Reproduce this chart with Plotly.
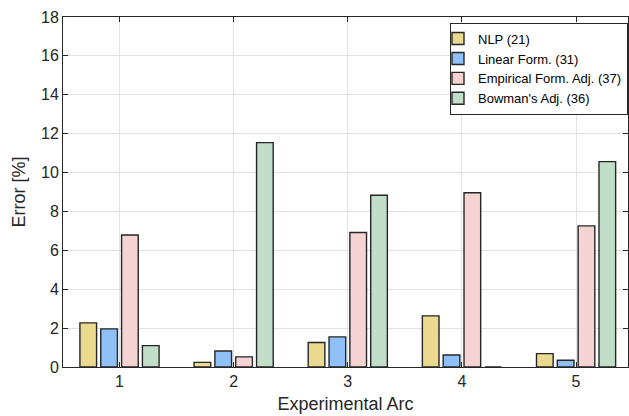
import plotly.graph_objects as go

arcs = [1, 2, 3, 4, 5]
tick_labels = ["1", "2", "3", "4", "5"]
series_names = ["NLP (21)", "Linear Form. (31)", "Empirical Form. Adj. (37)", "Bowman's Adj. (36)"]
nlp = [2.27, 0.24, 1.26, 2.63, 0.69]
linear = [1.96, 0.82, 1.55, 0.62, 0.35]
empirical = [6.79, 0.52, 6.92, 8.96, 7.26]
bowman = [1.10, 11.54, 8.83, 0.0, 10.56]
colors = ["#EBD98F", "#8FC0F8", "#F5D3D3", "#C1DEC8"]

fig = go.Figure()
for name, vals, col in zip(series_names, [nlp, linear, empirical, bowman], colors):
    fig.add_trace(go.Bar(
        x=arcs, y=vals, name=name,
        marker=dict(color=col, line=dict(color="#262626", width=1.4)),
    ))

axis_common = dict(
    showline=True, linecolor="#262626", linewidth=1, mirror="ticks",
    ticks="inside", ticklen=5, tickcolor="#262626", tickwidth=1,
    showgrid=True, gridcolor="#E3E3E3", gridwidth=1, zeroline=False,
    tickfont=dict(family="Liberation Sans, Arial", size=16, color="#262626"),
)

fig.update_layout(
    width=629, height=416,
    margin=dict(l=63, r=1, t=17, b=49),
    paper_bgcolor="white", plot_bgcolor="white",
    barmode="group", bargap=0.27, bargroupgap=0.2,
    font=dict(family="Liberation Sans, Arial", color="#262626"),
    xaxis=dict(range=[0.505, 5.455], tickvals=arcs, ticktext=tick_labels,
               title=dict(text="Experimental Arc", font=dict(size=18), standoff=8),
               **axis_common),
    yaxis=dict(range=[0, 18], dtick=2, tick0=0,
               title=dict(text="Error [%]", font=dict(size=18), standoff=10),
               **axis_common),
    legend=dict(x=1.0, y=0.984, xanchor="right", yanchor="top",
                bgcolor="white", bordercolor="#262626", borderwidth=1,
                font=dict(size=13, color="#000000"), itemwidth=30,
                indentation=-13, tracegroupgap=0),
    showlegend=True,
)

fig.write_html("out.html")
